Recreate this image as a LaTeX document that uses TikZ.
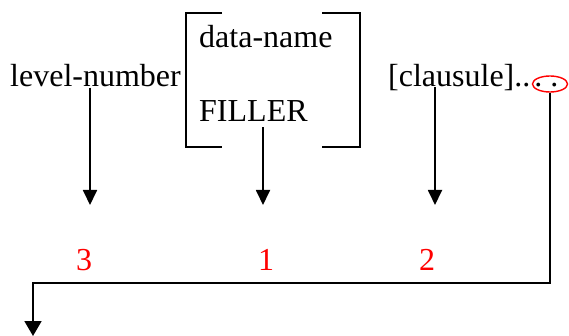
\documentclass[tikz,border=0pt]{standalone}
\usepackage{fontspec}
\setmainfont{Liberation Serif}
\usetikzlibrary{arrows.meta,shapes.geometric}

\begin{document}
\begin{tikzpicture}[x=1pt,y=-1pt,>={Triangle[length=15pt,width=14pt]},
  word/.style={font=\fontsize{32}{38}\selectfont,inner sep=0pt,anchor=base west},
  num/.style={font=\fontsize{32}{38}\selectfont,text=red,inner sep=0pt,anchor=base},
  rule/.style={line width=1.8pt}]
\useasboundingbox (0,0) rectangle (569,336);
% clause syntax
\node[word] (lvl) at (10,87) {level-number};
\node[word] (dname) at (199,48) {data-name};
\node[word] (filler) at (199,122) {FILLER};
\node[word] (cl) at (388,87) {[clausule]..\hspace{4pt}.\hspace{8pt}.};
\node[ellipse,draw=red,line width=1.4pt,minimum width=35pt,minimum height=16pt,inner sep=0pt] (dots) at (550,84) {};
% brackets round the alternatives
\draw[rule] (222,13) -- (186,13) -- (186,147) -- (222,147);
\draw[rule] (322,13) -- (360,13) -- (360,147) -- (322,147);
% order of the parts
\node[num] (n3) at (84,270) {3};
\node[num] (n1) at (266,270) {1};
\node[num] (n2) at (427,270) {2};
\coordinate (t3) at (90,205);
\coordinate (t1) at (263,205);
\coordinate (t2) at (435,205);
\draw[rule,->] (lvl.south -| t3) -- (t3);
\draw[rule,->] (filler.south -| t1) ++(0,5) -- (t1);
\draw[rule,->] (cl.south -| t2) ++(0,-4) -- (t2);
% the period ends the entry
\coordinate (out) at (33,336);
\draw[rule,->,>={Triangle[length=15pt,width=17pt]}] (dots.south) -- ++(0,190) -| (out);
\end{tikzpicture}
\end{document}
